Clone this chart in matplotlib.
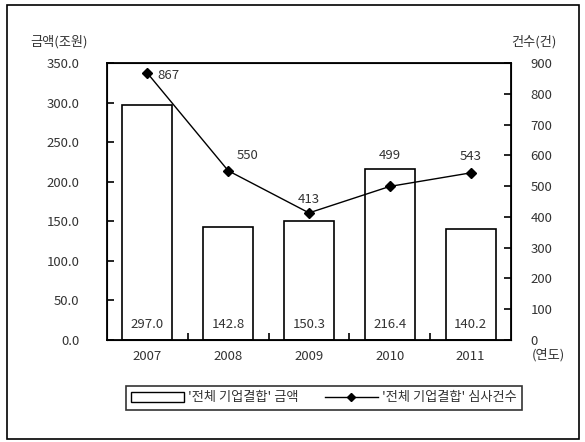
import matplotlib
matplotlib.use("Agg")
import matplotlib.pyplot as plt
from matplotlib.patches import Rectangle
from matplotlib.lines import Line2D

plt.rcParams['font.family'] = ['Noto Sans CJK KR', 'DejaVu Sans']

years = ["2007", "2008", "2009", "2010", "2011"]
amounts = [297.0, 142.8, 150.3, 216.4, 140.2]
counts = [867, 550, 413, 499, 543]
left_ticks = [0, 50, 100, 150, 200, 250, 300, 350]
right_ticks = [0, 100, 200, 300, 400, 500, 600, 700, 800, 900]

txt = "#333333"
fs = 9.5
fig = plt.figure(figsize=(5.85, 4.42), dpi=100)
ax = fig.add_axes([107/585, 1 - 340/442, (511 - 107)/585, (340 - 63)/442])
x = list(range(len(years)))
ax.bar(x, amounts, width=0.62, facecolor="white", edgecolor="black", linewidth=1.2, zorder=2)
for xi, v in zip(x, amounts):
    ax.text(xi, 12, f"{v:.1f}", ha="center", va="bottom", fontsize=fs, color=txt, zorder=5)
ax.set_xlim(-0.5, 4.5)
ax.set_ylim(0, 350)
ax.set_yticks(left_ticks)
ax.set_yticklabels([f"{t:.1f}" for t in left_ticks], fontsize=fs, color=txt)
ax.set_xticks(x)
ax.set_xticklabels(years, fontsize=fs, color=txt)
ax.tick_params(axis="x", length=0, pad=7)
ax.set_xticks([0.5, 1.5, 2.5, 3.5], minor=True)
ax.tick_params(axis="x", which="minor", direction="in", length=5, width=1.2)
ax.tick_params(axis="y", direction="in", length=5, width=1.2, pad=20)
for s in ax.spines.values():
    s.set_linewidth(1.3)

ax2 = ax.twinx()
ax2.plot(x, counts, color="black", linewidth=1.0, marker="D", markersize=5, zorder=4)
ax2.set_ylim(0, 900)
ax2.set_yticks(right_ticks)
ax2.set_yticklabels([str(t) for t in right_ticks], fontsize=fs, color=txt)
ax2.tick_params(axis="y", direction="in", length=5, width=1.2, pad=14)
offsets = [(0.12, -8), (0.1, 50), (0.0, 42), (0.0, 102), (0.0, 52)]
for xi, c, (dx, dy) in zip(x, counts, offsets):
    ha = "left" if xi < 2 else "center"
    ax2.text(xi + dx, c + dy, str(c), ha=ha, va="center", fontsize=fs, color=txt)

fig.text(30/585, 1 - 42/442, "금액(조원)", fontsize=fs, color=txt, va="center")
fig.text(557/585, 1 - 42/442, "건수(건)", fontsize=fs, color=txt, va="center", ha="right")
fig.text(548/585, 1 - 355/442, "(연도)", fontsize=fs, color=txt, va="center", ha="center")

handles = [Rectangle((0, 0), 1, 1, facecolor="white", edgecolor="black", linewidth=1.0),
           Line2D([], [], color="black", linewidth=1.0, marker="D", markersize=4)]
leg = fig.legend(handles, ["'전체 기업결합' 금액", "'전체 기업결합' 심사건수"],
                 loc="center", bbox_to_anchor=(324/585, 1 - 398/442), ncol=2, fontsize=fs,
                 frameon=True, fancybox=False, edgecolor="black", handlelength=4.0,
                 handletextpad=0.3, columnspacing=2.0, borderpad=0.45, borderaxespad=0)
leg.get_frame().set_linewidth(1.2)
for t in leg.get_texts():
    t.set_color(txt)

fig.patches.append(Rectangle((7/585, 3/442), 572/585, 434/442, transform=fig.transFigure,
                             fill=False, edgecolor="black", linewidth=1.2))
fig.savefig("out.png", dpi=100)
